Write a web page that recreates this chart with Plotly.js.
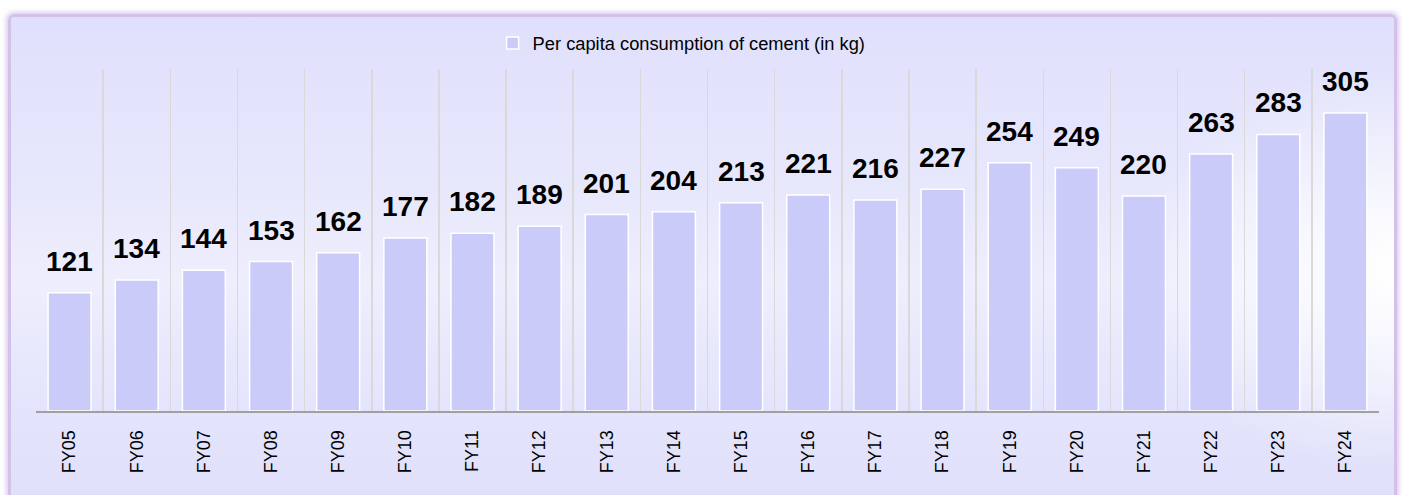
<!DOCTYPE html>
<html>
<head>
<meta charset="utf-8">
<script src="https://cdn.plot.ly/plotly-3.0.1.min.js"></script>
<style>
  html, body { margin: 0; padding: 0; background: #ffffff; width: 1402px; height: 495px; overflow: hidden; }
  #frame {
    position: absolute; left: 8px; top: 14px; width: 1389px; height: 490px;
    box-sizing: border-box;
    border: 3px solid #d3c1ea;
    border-radius: 6px;
    box-shadow: 0 0 5px 2px rgba(190,160,225,0.55);
    background:
      radial-gradient(ellipse 260px 200px at 100% 52%, rgba(255,255,255,1) 0%, rgba(255,255,255,0) 100%),
      linear-gradient(to bottom, #e0e0fc 0%, #e6e6fc 30%, #eeeefd 55%, #e4e4fc 80%, #e0e0fb 100%);
  }
  #chart { position: absolute; left: 0; top: 0; width: 1402px; height: 495px; }
</style>
</head>
<body>
<div id="frame"></div>
<div id="chart"></div>
<script>
const categories = ["FY05","FY06","FY07","FY08","FY09","FY10","FY11","FY12","FY13","FY14",
                    "FY15","FY16","FY17","FY18","FY19","FY20","FY21","FY22","FY23","FY24"];
const perCapitaKg = [121,134,144,153,162,177,182,189,201,204,213,221,216,227,254,249,220,263,283,305];
const seriesName = "Per capita consumption of cement (in kg)";

const trace = {
  type: "bar",
  x: categories,
  y: perCapitaKg,
  name: seriesName,
  marker: { color: "#cbcbfa", line: { color: "#ffffff", width: 1.5 } },
  showlegend: true,
  hoverinfo: "x+y"
};

const annotations = categories.map((c, i) => ({
  x: c, y: perCapitaKg[i], xref: "x", yref: "y",
  text: String(perCapitaKg[i]),
  showarrow: false, yanchor: "bottom", yshift: 14,
  font: { family: "'Liberation Sans', Arial, sans-serif", size: 28, color: "#000000", weight: "bold" }
}));

const layout = {
  width: 1402, height: 495,
  margin: { l: 36, r: 23, t: 69, b: 84 },
  paper_bgcolor: "rgba(0,0,0,0)",
  plot_bgcolor: "rgba(0,0,0,0)",
  bargap: 0.36,
  font: { family: "'Liberation Sans', Arial, sans-serif", color: "#000000" },
  showlegend: true,
  legend: {
    orientation: "h", x: 0.34, xanchor: "left", y: 1.076, yanchor: "middle",
    font: { size: 18.3, color: "#000000" }, bgcolor: "rgba(0,0,0,0)",
    itemwidth: 30
  },
  xaxis: {
    type: "category",
    tickangle: -90,
    tickfont: { size: 18, color: "#000000" },
    showgrid: true, gridcolor: "#d9d9d9", gridwidth: 1.5,
    tickson: "boundaries",
    ticks: "", ticklabelstandoff: 10,
    showline: true, linecolor: "#a0a0a0", linewidth: 2,
    zeroline: false, fixedrange: true
  },
  yaxis: {
    range: [0, 350],
    visible: false, showgrid: false, zeroline: false, fixedrange: true
  },
  annotations: annotations
};

Plotly.newPlot("chart", [trace], layout, { displayModeBar: false, staticPlot: true });
</script>
</body>
</html>
